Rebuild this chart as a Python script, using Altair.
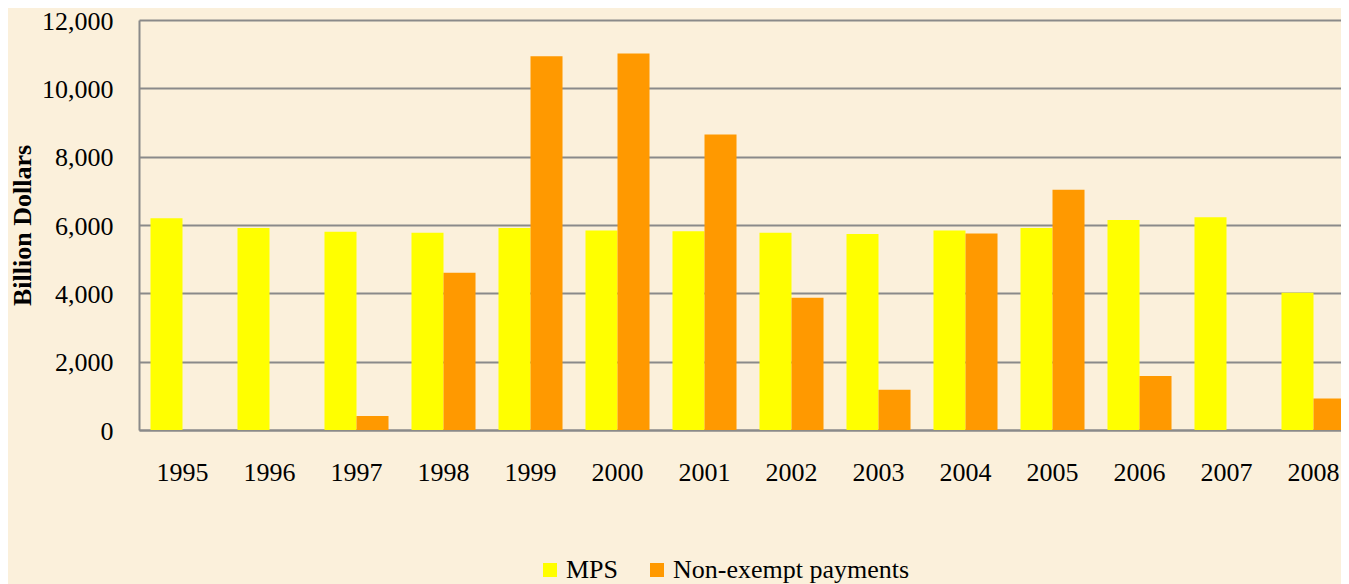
import altair as alt
import pandas as pd

years = ["1995", "1996", "1997", "1998", "1999", "2000", "2001",
         "2002", "2003", "2004", "2005", "2006", "2007", "2008"]
mps = [6200, 5910, 5800, 5770, 5910, 5840, 5820, 5770, 5740, 5840, 5910, 6150, 6230, 4020]
non_exempt = [0, 0, 410, 4600, 10940, 11020, 8650, 3870, 1180, 5750, 7030, 1580, 0, 920]
series = ["MPS", "Non-exempt payments"]
colors = ["#FFFF00", "#FF9900"]
y_ticks = [0, 2000, 4000, 6000, 8000, 10000, 12000]

rows = []
for i, yr in enumerate(years):
    rows.append({"year": yr, "series": series[0], "value": mps[i]})
    rows.append({"year": yr, "series": series[1], "value": non_exempt[i]})
df = pd.DataFrame(rows)

FONT = "Liberation Serif"
GRID = "#8A8A8A"
FS = 26

chart = alt.Chart(df).mark_bar(stroke=None).encode(
    x=alt.X("year:N", sort=years,
            scale=alt.Scale(range=[0, 1218], paddingInner=0.264, paddingOuter=0.132),
            axis=alt.Axis(title=None, labelAngle=0, labelFont=FONT, labelFontSize=FS,
                          labelColor="black", ticks=False, labelPadding=29,
                          domainColor=GRID, domainWidth=2, grid=False)),
    xOffset=alt.XOffset("series:N", sort=series),
    y=alt.Y("value:Q",
            scale=alt.Scale(domain=[0, 12000], nice=False),
            axis=alt.Axis(title="Billion Dollars", values=y_ticks, format=",d",
                          labelFont=FONT, labelFontSize=FS, labelColor="black",
                          labelBaseline="alphabetic", labelOffset=9,
                          ticks=False, labelPadding=26,
                          domainColor=GRID, domainWidth=2,
                          gridColor=GRID, gridWidth=2,
                          titleFont=FONT, titleFontSize=FS, titleFontWeight="bold",
                          titleColor="black", titleX=-109, titleY=205,
                          titleBaseline="alphabetic", titleAngle=270)),
    color=alt.Color("series:N",
                    scale=alt.Scale(domain=series, range=colors),
                    legend=alt.Legend(title=None, orient="none", legendX=398, legendY=537,
                                      direction="horizontal", symbolType="square",
                                      symbolSize=196, symbolStrokeWidth=0,
                                      labelFont=FONT, labelFontSize=FS, labelColor="black",
                                      labelLimit=0, labelOffset=3, columnPadding=25,
                                      padding=0)),
).properties(
    width=1202,
    height=410,
    autosize=alt.AutoSizeParams(type="none"),
    padding={"left": 131, "top": 12, "right": 0, "bottom": 154},
).configure(
    background="#FBF0DB",
).configure_view(
    stroke=None,
)

chart.save("out.html", embed_options={"renderer": "svg", "actions": False})
